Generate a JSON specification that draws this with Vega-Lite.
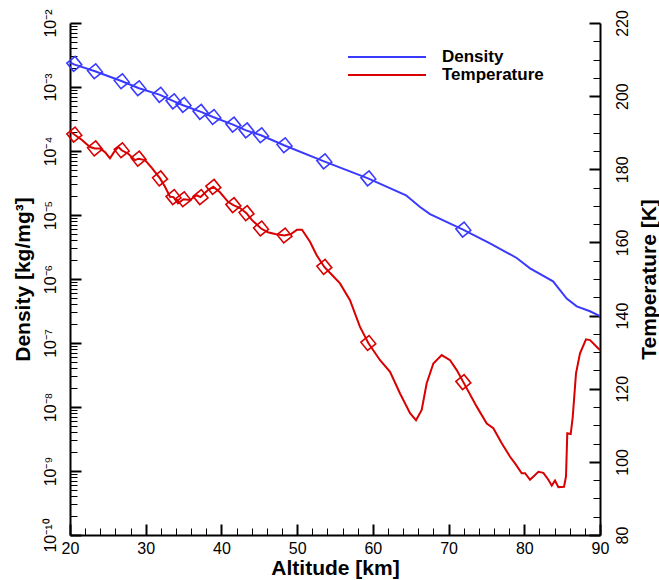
{
  "$schema": "https://vega.github.io/schema/vega-lite/v6.json",
  "width": 530,
  "height": 512,
  "autosize": {"type": "none"},
  "padding": {"left": 70, "top": 23, "right": 59, "bottom": 45},
  "background": "white",
  "config": {
    "view": {"stroke": null},
    "font": "Liberation Sans",
    "axis": {
      "grid": false,
      "domainColor": "black",
      "domainWidth": 2,
      "tickColor": "black",
      "labelColor": "black",
      "titleColor": "black",
      "labelFont": "Liberation Sans",
      "titleFont": "Liberation Sans",
      "labelFontSize": 16,
      "titleFontSize": 21,
      "titleFontWeight": "bold",
      "labelFlush": false,
      "labelOverlap": false
    }
  },
  "datasets": {
    "density": [
      {"altitude": 20.0, "density": 2.43e-3},
      {"altitude": 20.53, "density": 2.26e-3},
      {"altitude": 23.3, "density": 1.76e-3},
      {"altitude": 26.87, "density": 1.23e-3},
      {"altitude": 29.11, "density": 9.55e-4},
      {"altitude": 31.89, "density": 7.55e-4},
      {"altitude": 33.74, "density": 5.98e-4},
      {"altitude": 34.93, "density": 5.18e-4},
      {"altitude": 37.3, "density": 4.09e-4},
      {"altitude": 38.89, "density": 3.40e-4},
      {"altitude": 41.53, "density": 2.58e-4},
      {"altitude": 43.25, "density": 2.10e-4},
      {"altitude": 45.23, "density": 1.76e-4},
      {"altitude": 48.27, "density": 1.23e-4},
      {"altitude": 53.55, "density": 6.90e-5},
      {"altitude": 59.36, "density": 3.74e-5},
      {"altitude": 64.38, "density": 2.03e-5},
      {"altitude": 66.23, "density": 1.33e-5},
      {"altitude": 67.55, "density": 1.03e-5},
      {"altitude": 71.91, "density": 5.92e-6},
      {"altitude": 75.47, "density": 3.61e-6},
      {"altitude": 79.0, "density": 2.13e-6},
      {"altitude": 80.76, "density": 1.47e-6},
      {"altitude": 83.8, "density": 9.20e-7},
      {"altitude": 85.6, "density": 4.94e-7},
      {"altitude": 86.93, "density": 3.74e-7},
      {"altitude": 88.68, "density": 3.13e-7},
      {"altitude": 90.0, "density": 2.64e-7}
    ],
    "densitySamples": [
      {"altitude": 20.57, "density": 2.30e-3},
      {"altitude": 23.3, "density": 1.76e-3},
      {"altitude": 26.83, "density": 1.23e-3},
      {"altitude": 29.05, "density": 9.55e-4},
      {"altitude": 31.89, "density": 7.55e-4},
      {"altitude": 33.67, "density": 5.98e-4},
      {"altitude": 34.99, "density": 5.27e-4},
      {"altitude": 37.24, "density": 4.09e-4},
      {"altitude": 38.93, "density": 3.40e-4},
      {"altitude": 41.57, "density": 2.58e-4},
      {"altitude": 43.31, "density": 2.10e-4},
      {"altitude": 45.23, "density": 1.76e-4},
      {"altitude": 48.33, "density": 1.23e-4},
      {"altitude": 53.59, "density": 6.90e-5},
      {"altitude": 59.4, "density": 3.74e-5},
      {"altitude": 71.95, "density": 5.92e-6}
    ],
    "temperature": [
      {"altitude": 20.0, "temperature": 190.4},
      {"altitude": 20.57, "temperature": 189.5},
      {"altitude": 21.58, "temperature": 188.0},
      {"altitude": 22.64, "temperature": 186.1},
      {"altitude": 23.3, "temperature": 185.7},
      {"altitude": 23.96, "temperature": 185.7},
      {"altitude": 24.62, "temperature": 184.7},
      {"altitude": 25.28, "temperature": 183.0},
      {"altitude": 25.81, "temperature": 184.7},
      {"altitude": 26.38, "temperature": 186.1},
      {"altitude": 26.83, "temperature": 185.2},
      {"altitude": 27.66, "temperature": 184.3},
      {"altitude": 28.59, "temperature": 182.5},
      {"altitude": 29.05, "temperature": 182.9},
      {"altitude": 29.91, "temperature": 182.5},
      {"altitude": 30.83, "temperature": 180.3},
      {"altitude": 31.89, "temperature": 177.5},
      {"altitude": 32.55, "temperature": 175.2},
      {"altitude": 33.21, "temperature": 172.5},
      {"altitude": 33.67, "temperature": 172.4},
      {"altitude": 34.26, "temperature": 170.7},
      {"altitude": 34.99, "temperature": 171.8},
      {"altitude": 35.85, "temperature": 171.6},
      {"altitude": 36.73, "temperature": 172.9},
      {"altitude": 37.24, "temperature": 172.4},
      {"altitude": 38.23, "temperature": 174.3},
      {"altitude": 38.93, "temperature": 175.2},
      {"altitude": 39.81, "temperature": 173.7},
      {"altitude": 40.87, "temperature": 171.1},
      {"altitude": 41.57, "temperature": 170.2},
      {"altitude": 42.45, "temperature": 169.4},
      {"altitude": 43.31, "temperature": 168.0},
      {"altitude": 44.04, "temperature": 166.1},
      {"altitude": 45.23, "temperature": 163.8},
      {"altitude": 46.15, "temperature": 162.8},
      {"altitude": 47.08, "temperature": 162.3},
      {"altitude": 48.33, "temperature": 161.9},
      {"altitude": 49.19, "temperature": 162.3},
      {"altitude": 49.98, "temperature": 163.5},
      {"altitude": 50.64, "temperature": 163.5},
      {"altitude": 51.7, "temperature": 160.2},
      {"altitude": 52.58, "temperature": 156.5},
      {"altitude": 53.59, "temperature": 153.3},
      {"altitude": 54.61, "temperature": 151.1},
      {"altitude": 55.66, "temperature": 148.8},
      {"altitude": 56.98, "temperature": 144.2},
      {"altitude": 58.3, "temperature": 136.9},
      {"altitude": 59.4, "temperature": 132.5},
      {"altitude": 60.95, "temperature": 127.8},
      {"altitude": 62.27, "temperature": 124.6},
      {"altitude": 63.59, "temperature": 118.7},
      {"altitude": 64.91, "temperature": 113.3},
      {"altitude": 65.7, "temperature": 111.4},
      {"altitude": 66.45, "temperature": 114.2},
      {"altitude": 67.11, "temperature": 121.5},
      {"altitude": 67.99, "temperature": 126.9},
      {"altitude": 69.09, "temperature": 129.2},
      {"altitude": 70.19, "temperature": 127.8},
      {"altitude": 71.08, "temperature": 125.1},
      {"altitude": 71.95, "temperature": 121.8},
      {"altitude": 73.72, "temperature": 115.1},
      {"altitude": 75.04, "temperature": 110.5},
      {"altitude": 75.91, "temperature": 109.2},
      {"altitude": 77.02, "temperature": 105.1},
      {"altitude": 78.12, "temperature": 101.4},
      {"altitude": 78.78, "temperature": 99.6},
      {"altitude": 79.66, "temperature": 96.9},
      {"altitude": 80.1, "temperature": 96.9},
      {"altitude": 80.76, "temperature": 95.1},
      {"altitude": 81.86, "temperature": 97.3},
      {"altitude": 82.52, "temperature": 97.0},
      {"altitude": 83.18, "temperature": 95.1},
      {"altitude": 83.63, "temperature": 93.5},
      {"altitude": 84.06, "temperature": 94.9},
      {"altitude": 84.5, "temperature": 93.1},
      {"altitude": 85.25, "temperature": 93.2},
      {"altitude": 85.51, "temperature": 96.0},
      {"altitude": 85.68, "temperature": 107.8},
      {"altitude": 86.13, "temperature": 107.6},
      {"altitude": 86.4, "temperature": 112.3},
      {"altitude": 86.83, "temperature": 124.2},
      {"altitude": 87.36, "temperature": 129.7},
      {"altitude": 88.15, "temperature": 133.5},
      {"altitude": 88.68, "temperature": 133.3},
      {"altitude": 89.78, "temperature": 131.0},
      {"altitude": 90.0, "temperature": 130.6}
    ],
    "temperatureSamples": [
      {"altitude": 20.57, "temperature": 189.5},
      {"altitude": 23.3, "temperature": 185.7},
      {"altitude": 26.83, "temperature": 185.2},
      {"altitude": 29.05, "temperature": 182.9},
      {"altitude": 31.89, "temperature": 177.5},
      {"altitude": 33.67, "temperature": 172.4},
      {"altitude": 34.99, "temperature": 171.8},
      {"altitude": 37.24, "temperature": 172.4},
      {"altitude": 38.93, "temperature": 175.2},
      {"altitude": 41.57, "temperature": 170.2},
      {"altitude": 43.31, "temperature": 168.0},
      {"altitude": 45.23, "temperature": 163.8},
      {"altitude": 48.33, "temperature": 161.9},
      {"altitude": 53.59, "temperature": 153.3},
      {"altitude": 59.4, "temperature": 132.5},
      {"altitude": 71.95, "temperature": 121.8}
    ]
  },
  "layer": [
    {
      "data": {"name": "density"},
      "mark": {"type": "line", "strokeWidth": 2, "clip": true},
      "encoding": {
        "x": {
          "field": "altitude", "type": "quantitative",
          "scale": {"domain": [20, 90], "nice": false, "zero": false},
          "axis": {
            "title": "Altitude [km]",
            "values": [20, 30, 40, 50, 60, 70, 80, 90],
            "tickSize": -11, "tickWidth": 2,
            "labelPadding": 16, "titlePadding": 1
          }
        },
        "y": {
          "field": "density", "type": "quantitative",
          "scale": {"type": "log", "domain": [1e-10, 1e-2], "nice": false},
          "axis": {
            "orient": "left",
            "title": "Density [kg/mg³]",
            "values": [1e-10, 1e-9, 1e-8, 1e-7, 1e-6, 1e-5, 1e-4, 1e-3, 1e-2],
            "labelExpr": "'10' + replace(replace(replace(replace(replace(replace(replace(replace(replace(replace(replace(toString(round(log(datum.value) / LN10)), '-', '⁻'), '0', '⁰'), '1', '¹'), '2', '²'), '3', '³'), '4', '⁴'), '5', '⁵'), '6', '⁶'), '7', '⁷'), '8', '⁸'), '9', '⁹')",
            "labelAngle": 270, "labelAlign": "center", "labelBaseline": "bottom",
            "tickSize": -11, "tickWidth": 2,
            "labelPadding": 23, "titlePadding": 9
          }
        },
        "color": {
          "datum": "Density",
          "scale": {"domain": ["Density", "Temperature"], "range": ["#3a3aff", "#d80000"]},
          "legend": {
            "orient": "none", "legendX": 277, "legendY": 25, "title": null,
            "symbolType": "stroke", "symbolSize": 6084, "symbolStrokeWidth": 2,
            "clipHeight": 18, "rowPadding": 0, "padding": 0,
            "labelFontSize": 17, "labelFontWeight": "bold", "labelColor": "black",
            "labelFont": "Liberation Sans", "labelOffset": 15
          }
        }
      }
    },
    {
      "data": {"name": "densitySamples"},
      "mark": {"type": "point", "shape": "diamond", "size": 225, "filled": false, "strokeWidth": 1.6, "opacity": 1, "color": "#3a3aff", "angle": 6},
      "encoding": {
        "x": {
          "field": "altitude", "type": "quantitative",
          "scale": {"domain": [20, 90], "nice": false, "zero": false},
          "axis": null
        },
        "y": {
          "field": "density", "type": "quantitative",
          "scale": {"type": "log", "domain": [1e-10, 1e-2], "nice": false},
          "axis": {
            "orient": "left", "title": null, "labels": false, "domain": false,
            "tickSize": -7, "tickWidth": 1,
            "values": [2e-10, 3e-10, 4e-10, 5e-10, 6e-10, 7e-10, 8e-10, 9e-10,
                       2e-9, 3e-9, 4e-9, 5e-9, 6e-9, 7e-9, 8e-9, 9e-9,
                       2e-8, 3e-8, 4e-8, 5e-8, 6e-8, 7e-8, 8e-8, 9e-8,
                       2e-7, 3e-7, 4e-7, 5e-7, 6e-7, 7e-7, 8e-7, 9e-7,
                       2e-6, 3e-6, 4e-6, 5e-6, 6e-6, 7e-6, 8e-6, 9e-6,
                       2e-5, 3e-5, 4e-5, 5e-5, 6e-5, 7e-5, 8e-5, 9e-5,
                       2e-4, 3e-4, 4e-4, 5e-4, 6e-4, 7e-4, 8e-4, 9e-4,
                       2e-3, 3e-3, 4e-3, 5e-3, 6e-3, 7e-3, 8e-3, 9e-3]
          }
        }
      }
    },
    {
      "data": {"name": "temperature"},
      "mark": {"type": "line", "strokeWidth": 2, "clip": true},
      "encoding": {
        "x": {
          "field": "altitude", "type": "quantitative",
          "scale": {"domain": [20, 90], "nice": false, "zero": false},
          "axis": {
            "orient": "bottom", "title": null, "labels": false, "domain": false,
            "tickSize": -7, "tickWidth": 1,
            "values": [22, 24, 26, 28, 32, 34, 36, 38, 42, 44, 46, 48, 52, 54, 56, 58, 62, 64, 66, 68, 72, 74, 76, 78, 82, 84, 86, 88]
          }
        },
        "y": {
          "field": "temperature", "type": "quantitative",
          "scale": {"domain": [80, 220], "nice": false, "zero": false},
          "axis": {
            "orient": "right",
            "title": "Temperature [K]",
            "values": [80, 100, 120, 140, 160, 180, 200, 220],
            "labelAngle": 270, "labelAlign": "center", "labelBaseline": "top",
            "titleAngle": 270, "titleBaseline": "top",
            "tickSize": -11, "tickWidth": 2,
            "labelPadding": 25, "titlePadding": 8
          }
        },
        "color": {
          "datum": "Temperature",
          "scale": {"domain": ["Density", "Temperature"], "range": ["#3a3aff", "#d80000"]},
          "legend": {
            "orient": "none", "legendX": 277, "legendY": 25, "title": null,
            "symbolType": "stroke", "symbolSize": 6084, "symbolStrokeWidth": 2,
            "clipHeight": 18, "rowPadding": 0, "padding": 0,
            "labelFontSize": 17, "labelFontWeight": "bold", "labelColor": "black",
            "labelFont": "Liberation Sans", "labelOffset": 15
          }
        }
      }
    },
    {
      "data": {"name": "temperatureSamples"},
      "mark": {"type": "point", "shape": "diamond", "size": 225, "filled": false, "strokeWidth": 1.6, "opacity": 1, "color": "#d80000", "angle": 6},
      "encoding": {
        "x": {
          "field": "altitude", "type": "quantitative",
          "scale": {"domain": [20, 90], "nice": false, "zero": false},
          "axis": null
        },
        "y": {
          "field": "temperature", "type": "quantitative",
          "scale": {"domain": [80, 220], "nice": false, "zero": false},
          "axis": {
            "orient": "right", "title": null, "labels": false, "domain": false,
            "tickSize": -7, "tickWidth": 1,
            "values": [85, 90, 95, 105, 110, 115, 125, 130, 135, 145, 150, 155, 165, 170, 175, 185, 190, 195, 205, 210, 215]
          }
        }
      }
    }
  ],
  "resolve": {"scale": {"x": "independent", "y": "independent"}}
}
